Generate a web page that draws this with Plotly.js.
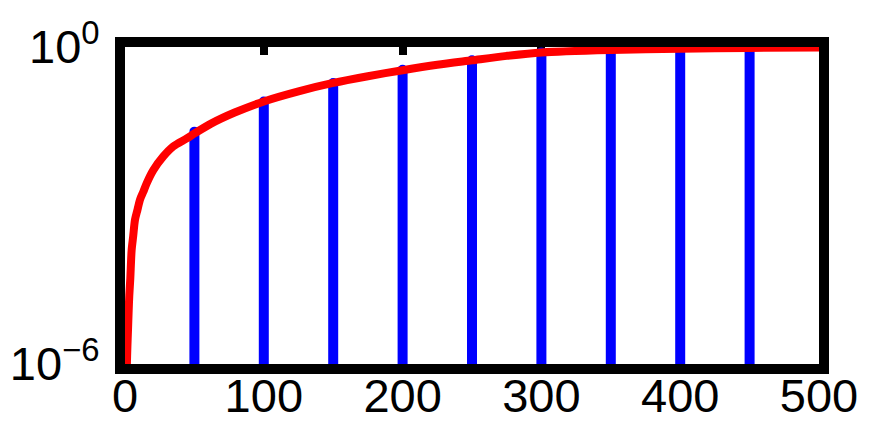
<!DOCTYPE html>
<html>
<head>
<meta charset="utf-8">
<script src="https://cdn.plot.ly/plotly-3.0.1.min.js"></script>
<style>
html, body { margin: 0; padding: 0; background: #fff; }
#chart { width: 879px; height: 425px; }
.scatterlayer .js-line { stroke-linecap: round; stroke-linejoin: round; }
</style>
</head>
<body>
<div id="chart"></div>
<script>
// Curve (red) sample points
const curveX = [1.2, 1.37, 1.73, 2.16, 2.59, 3.1, 3.82, 4.8, 5.9, 7.2, 9.0, 10.8, 13.2, 15.6, 20.4, 27.6, 34.8, 44.5, 50.4, 62, 79, 100, 125, 150, 175, 200, 225, 250, 275, 300, 350, 400, 450, 500];
const curveY = [4e-7, 1e-6, 2.14e-6, 4.37e-6, 9.33e-6, 2.0e-5, 4.17e-5, 1.45e-4, 2.63e-4, 5.37e-4, 8.32e-4, 1.29e-3, 1.82e-3, 2.63e-3, 4.68e-3, 8.51e-3, 1.32e-2, 1.86e-2, 2.34e-2, 3.55e-2, 5.75e-2, 9.33e-2, 0.145, 0.209, 0.28, 0.363, 0.46, 0.56, 0.68, 0.79, 0.88, 0.93, 0.96, 0.98];

// Stems (blue)
const stemX = [50, 100, 150, 200, 250, 300, 350, 400, 450];
const stemY = [0.025, 0.093, 0.209, 0.37, 0.56, 0.79, 0.88, 0.93, 0.96];
const stemBase = 1e-6;

// Tick labels
const xTickVals = [0, 100, 200, 300, 400, 500];
const xTickText = ['0', '100', '200', '300', '400', '500'];
const yTickVals = [1e-6, 1];
const yTickText = ['10<sup>\u22126</sup>', '10<sup>0</sup>'];

// build stem segments
const sx = [], sy = [];
stemX.forEach((x, i) => { sx.push(x, x, null); sy.push(stemBase, stemY[i], null); });

const traces = [
  { x: sx, y: sy, type: 'scatter', mode: 'lines', connectgaps: false,
    line: { color: '#0000ff', width: 10 }, hoverinfo: 'skip', showlegend: false },
  { x: curveX, y: curveY, type: 'scatter', mode: 'lines',
    line: { color: '#ff0000', width: 8, shape: 'spline', smoothing: 0.8 }, showlegend: false }
];

const axisCommon = {
  showline: true, linecolor: '#000', linewidth: 10, mirror: 'ticks',
  ticks: 'inside', ticklen: 8, tickwidth: 8, tickcolor: '#000',
  showgrid: false, zeroline: false, layer: 'below traces',
  tickfont: { family: 'Liberation Sans, Arial, sans-serif', size: 47, color: '#000' }
};

const layout = {
  width: 879, height: 425,
  margin: { l: 125, r: 60, t: 47, b: 61, pad: 0 },
  paper_bgcolor: '#fff', plot_bgcolor: '#fff',
  showlegend: false,
  xaxis: Object.assign({}, axisCommon, {
    range: [0, 500], tickmode: 'array', tickvals: xTickVals, ticktext: xTickText,
    ticklabelstandoff: -18
  }),
  yaxis: Object.assign({}, axisCommon, {
    type: 'log', range: [-6, 0], tickmode: 'array', tickvals: yTickVals, ticktext: yTickText,
    ticklabelstandoff: 6
  })
};

Plotly.newPlot('chart', traces, layout, { displayModeBar: false, staticPlot: true });
</script>
</body>
</html>
